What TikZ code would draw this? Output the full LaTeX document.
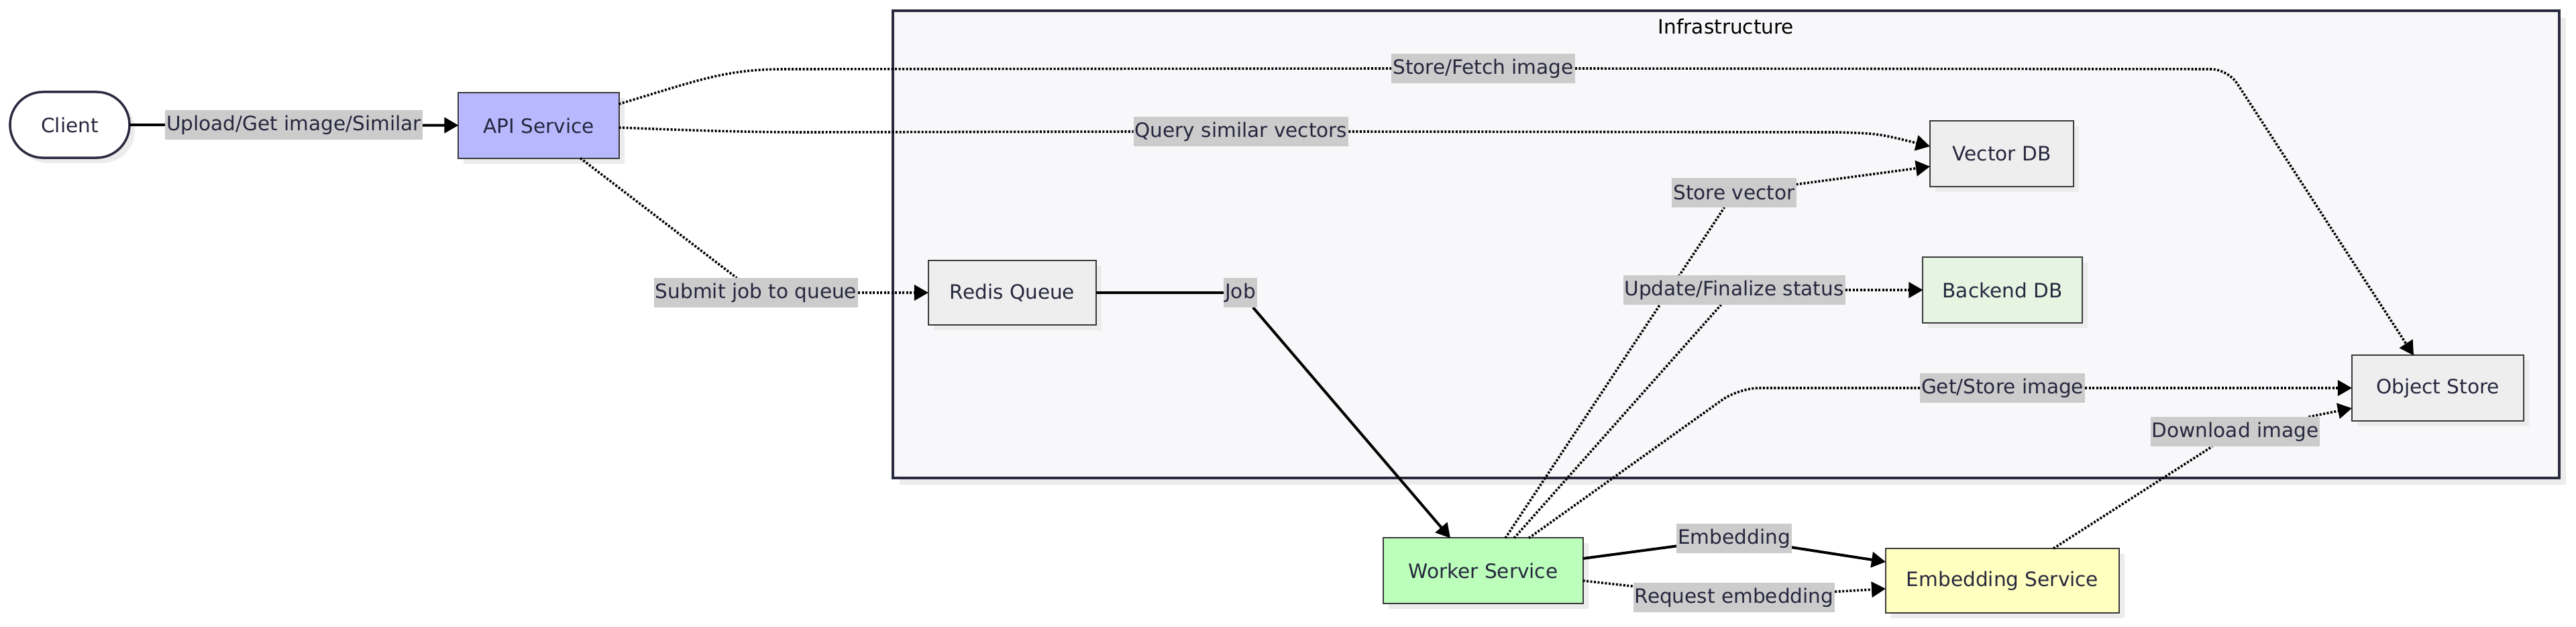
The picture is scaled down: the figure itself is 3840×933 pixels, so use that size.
\documentclass[tikz,border=0pt]{standalone}
\usepackage{fontspec}
\setmainfont{DejaVu Sans}
\usetikzlibrary{arrows.meta,shadows,calc}
\definecolor{txt}{HTML}{26263E}
\definecolor{infraborder}{HTML}{2A2A40}
\definecolor{infrafill}{HTML}{F8F8FA}
\definecolor{boxborder}{HTML}{3A3A3A}
\definecolor{shcol}{HTML}{ECECEC}
\definecolor{lblgray}{HTML}{CCCCCC}
\definecolor{apifill}{HTML}{B8B8FF}
\definecolor{workerfill}{HTML}{BBFFBB}
\definecolor{embfill}{HTML}{FFFFBF}
\definecolor{bdbfill}{HTML}{E6F5E1}
\definecolor{grayfill}{HTML}{EEEEEE}
\pgfdeclarelayer{bg}
\pgfdeclarelayer{front}
\pgfsetlayers{bg,main,front}
\begin{document}
\begin{tikzpicture}[x=0.01cm,y=-0.01cm,
  font=\fontsize{8.4pt}{10pt}\selectfont,
  nbox/.style={draw=boxborder, line width=0.02cm, minimum height=0.97cm, text=txt, inner sep=0pt, outer sep=0pt,
    drop shadow={shadow xshift=0.08cm, shadow yshift=-0.08cm, fill=shcol, opacity=1}},
  lbl/.style={fill=lblgray, text=txt, inner xsep=0.02cm, inner ysep=0pt, outer sep=0pt, minimum height=0.44cm},
  dotline/.style={line width=0.036cm, dash pattern=on 0.03cm off 0.025cm, black},
  solidline/.style={line width=0.04cm, black},
  arr/.style={-{Triangle[length=0.21cm,width=0.23cm]}}
]
\useasboundingbox (0,0) rectangle (3840,933);

% Infrastructure cluster
\begin{pgfonlayer}{bg}
  \fill[shcol] (1341,26) rectangle (3825,722);
  \draw[infraborder, fill=infrafill, line width=0.035cm] (1331,16) rectangle (3815,712);
\end{pgfonlayer}
\node[text=black] (infratitle) at (2573,39) {Infrastructure};

% Nodes
\node[draw=infraborder, line width=0.035cm, fill=white, text=txt, rounded corners=0.49cm,
      minimum width=1.78cm, minimum height=0.98cm, outer sep=0pt,
      drop shadow={shadow xshift=0.08cm, shadow yshift=-0.08cm, fill=shcol, opacity=1}] (client) at (104,186) {Client};
\node[nbox, fill=apifill, minimum width=2.39cm] (api) at (803,187) {API Service};
\node[nbox, fill=grayfill, minimum width=2.50cm, minimum height=0.96cm] (redis) at (1509,436) {Redis Queue};
\node[nbox, fill=grayfill, minimum width=2.14cm] (vdb) at (2984,229) {Vector DB};
\node[nbox, fill=bdbfill, minimum width=2.37cm] (bdb) at (2985,432) {Backend DB};
\node[nbox, fill=grayfill, minimum width=2.56cm] (obj) at (3634,578) {Object Store};
\node[nbox, fill=workerfill, minimum width=2.97cm] (worker) at (2211,850) {Worker Service};
\node[nbox, fill=embfill, minimum width=3.48cm, minimum height=0.96cm] (emb) at (2985,865) {Embedding Service};

% Edge labels (on top of the connectors)
\begin{pgfonlayer}{front}
\node[lbl] (lupload) at (438,186) {Upload/Get image/Similar};
\node[lbl] (lsf) at (2211,102) {Store/Fetch image};
\node[lbl] (lq) at (1850,196) {Query similar vectors};
\node[lbl] (lsubmit) at (1127,436) {Submit job to queue};
\node[lbl] (ljob) at (1849,436) {Job};
\node[lbl] (lsv) at (2585,287) {Store vector};
\node[lbl] (lupd) at (2585,432) {Update/Finalize status};
\node[lbl] (lgs) at (2985,578) {Get/Store image};
\node[lbl] (ldl) at (3332,643) {Download image};
\node[lbl] (lemb) at (2585,802) {Embedding};
\node[lbl] (lreq) at (2585,890) {Request embedding};
\end{pgfonlayer}

% Edges
  % Client -> API
  \draw[solidline] (client) -- (lupload);
  \draw[solidline, arr] (lupload) -- (api);
  % API -> Object Store
  \draw[dotline] ([yshift=0.32cm]api.east) .. controls (1040,120) and (1080,103) .. (1170,103) -- (lsf.west);
  \draw[dotline, arr, rounded corners=0.25cm] (lsf.east) -- (3321,103) -- ([xshift=-0.36cm]obj.north);
  % API -> Vector DB
  \draw[dotline] ([yshift=-0.03cm]api.east) .. controls (1000,193) and (1100,197) .. (1200,197) -- (lq.west);
  \draw[dotline, arr] (lq.east) -- (2740,197) .. controls (2800,199) .. ([yshift=0.11cm]vdb.west);
  % API -> Redis
  \draw[dotline] ([xshift=0.62cm]api.south) -- (lsubmit);
  \draw[dotline, arr] (lsubmit.east) -- (redis.west);
  % Redis -> Worker
  \draw[solidline] (redis.east) -- (ljob.west);
  \draw[solidline, arr] (ljob) -- ([xshift=-0.49cm]worker.north);
  % Worker -> Vector DB
  \draw[dotline] ([xshift=0.33cm]worker.north) -- (lsv);
  \draw[dotline, arr] (lsv) -- ([yshift=-0.19cm]vdb.west);
  % Worker -> Backend DB
  \draw[dotline] ([xshift=0.46cm]worker.north) -- (lupd);
  \draw[dotline, arr] (lupd.east) -- (bdb.west);
  % Worker -> Object Store
  \draw[dotline, rounded corners=0.3cm] ([xshift=0.68cm]worker.north) -- (2592,578) -- (lgs.west);
  \draw[dotline, arr] (lgs.east) -- (obj.west);
  % Embedding Service -> Object Store
  \draw[dotline] ([xshift=0.76cm]emb.north) -- (ldl);
  \draw[dotline, arr] (ldl) -- ([yshift=-0.30cm]obj.west);
  % Worker -> Embedding Service
  \draw[solidline] ([yshift=0.18cm]worker.east) -- (lemb);
  \draw[solidline, arr] (lemb) -- ([yshift=0.28cm]emb.west);
  \draw[dotline] ([yshift=-0.15cm]worker.east) -- (lreq);
  \draw[dotline, arr] (lreq) -- ([yshift=-0.12cm]emb.west);
\end{tikzpicture}
\end{document}
